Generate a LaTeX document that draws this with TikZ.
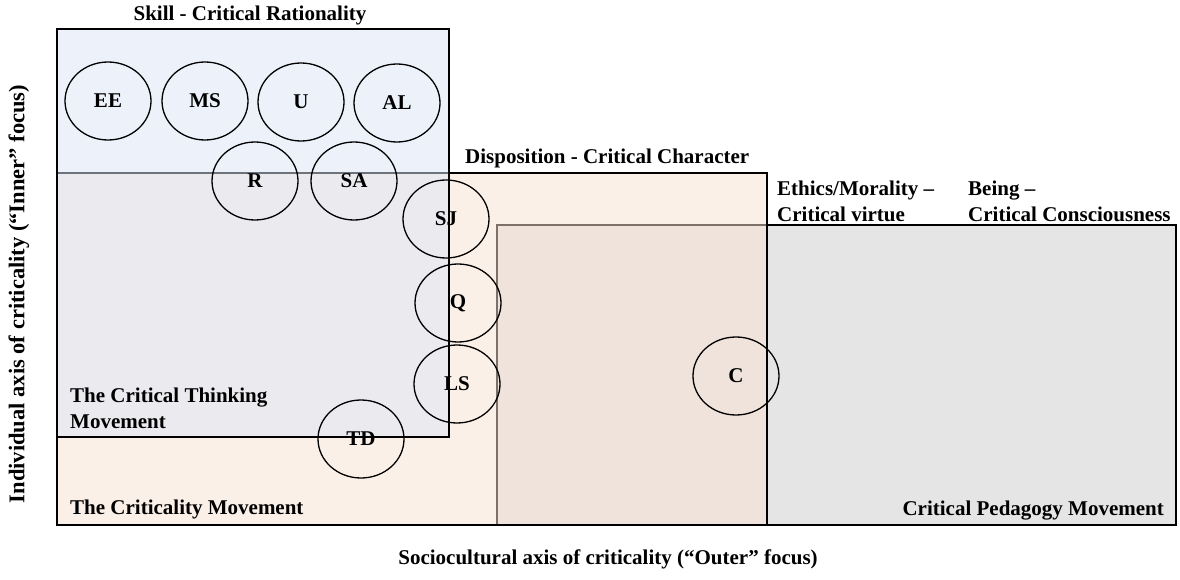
\documentclass[tikz,border=0pt]{standalone}
\usepackage{fontspec}
\setmainfont{Liberation Serif}
\usetikzlibrary{shapes.geometric}
\definecolor{pedagogy}{RGB}{229,229,229}
\definecolor{criticality}{RGB}{249,227,211}
\definecolor{thinking}{RGB}{221,231,247}
\begin{document}
\begin{tikzpicture}[x=1pt,y=-1pt,
  lbl/.style={font=\fontsize{21}{26}\selectfont\bfseries, inner sep=0pt, align=left},
  bubble/.style={ellipse, draw=black, line width=1.3pt, minimum width=86pt,
    minimum height=78pt, inner sep=0pt, font=\fontsize{21}{24}\selectfont\bfseries},
  zone/.style={draw=black, line width=1.4pt}]
\useasboundingbox (0,0) rectangle (1180,580);
\fill[white] (0,0) rectangle (1180,580);

% movement zones, back to front
\draw[zone, fill=pedagogy] (497,225) rectangle (1176,525);
\draw[zone, fill=criticality, fill opacity=0.5] (57,173) rectangle (767,525);
\draw[zone, fill=thinking, fill opacity=0.5] (57,29) rectangle (449,437);

% zone headings
\node[lbl, anchor=base] (skill) at (250,21) {Skill - Critical Rationality};
\node[lbl, anchor=base west] (disp) at (465,164) {Disposition - Critical Character};
\node[lbl, anchor=west] (ethics) at (777,201) {Ethics/Morality --\\Critical virtue};
\node[lbl, anchor=west] (being) at (968,201) {Being --\\Critical Consciousness};
\node[lbl, anchor=west] (ctm) at (70,408) {The Critical Thinking\\Movement};
\node[lbl, anchor=base west] (cm) at (70,514) {The Criticality Movement};
\node[lbl, anchor=base east] (cpm) at (1164,515) {Critical Pedagogy Movement};

% axes
\node[lbl, font=\fontsize{22.5}{26}\selectfont\bfseries, rotate=90] (yaxis) at (19,294)
  {Individual axis of criticality (“Inner” focus)};
\node[lbl, anchor=base] (xaxis) at (608,564) {Sociocultural axis of criticality (“Outer” focus)};

% elements
\node[bubble] (EE) at (108,101) {EE};
\node[bubble] (MS) at (205,101) {MS};
\node[bubble] (U)  at (301,102) {U};
\node[bubble] (AL) at (397,103) {AL};
\node[bubble] (R)  at (255,181) {R};
\node[bubble] (SA) at (354,181) {SA};
\node[bubble] (SJ) at (446,219) {SJ};
\node[bubble] (Q)  at (458,303) {Q};
\node[bubble] (LS) at (457,384) {LS};
\node[bubble] (TD) at (361,439) {TD};
\node[bubble] (C)  at (736,376) {C};
\end{tikzpicture}
\end{document}
